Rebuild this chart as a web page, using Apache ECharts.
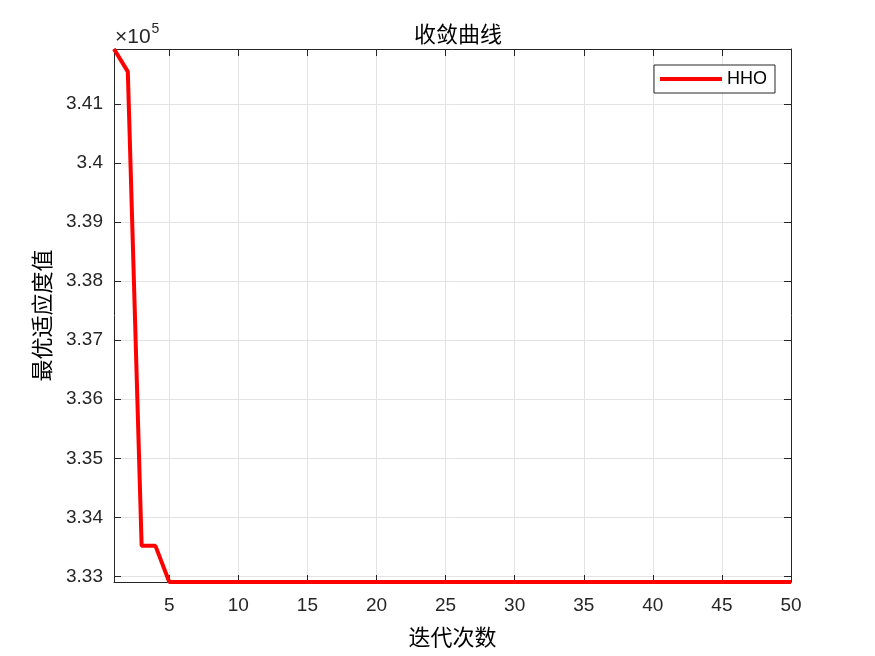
<!DOCTYPE html>
<html><head><meta charset="utf-8">
<script src="https://cdn.jsdelivr.net/npm/echarts@6/dist/echarts.min.js"></script>
<style>html,body{margin:0;padding:0;background:#fff}#c{width:875px;height:656px}</style>
</head><body><div id="c"></div>
<script>
const iterations = Array.from({length: 50}, (_, i) => i + 1);
const hhoValues = [341933, 341550, 333516, 333516,
  332904, 332904, 332904, 332904, 332904, 332904, 332904, 332904, 332904, 332904, 332904, 332904,
  332904, 332904, 332904, 332904, 332904, 332904, 332904, 332904, 332904, 332904, 332904, 332904,
  332904, 332904, 332904, 332904, 332904, 332904, 332904, 332904, 332904, 332904, 332904, 332904,
  332904, 332904, 332904, 332904, 332904, 332904, 332904, 332904, 332904, 332904];
const seriesName = 'HHO';
const titleText = '收敛曲线';
const xName = '迭代次数';
const yName = '最优适应度值';
const yMin = 332904, yMax = 341933;

const chart = echarts.init(document.getElementById('c'));
const axisCol = '#262626';
const latin = 'Liberation Sans, Arial, sans-serif';
const cjk = 'Noto Sans CJK SC';
const lab = {color: axisCol, fontSize: 19, fontFamily: latin};
const data = iterations.map((x, i) => [x, hhoValues[i]]);
const xFmt = v => (Math.abs(v % 5) < 1e-9 ? String(v) : '');
const yFmt = v => { const r = Math.round(v); return (Math.abs(v - r) < 1e-6 && r % 1000 === 0) ? (r / 1e5).toString() : ''; };
chart.setOption({
  animation: false,
  backgroundColor: '#fff',
  title: {text: titleText, left: 453, textAlign: 'center', top: 18,
    textStyle: {fontSize: 22, fontWeight: 'normal', color: '#000', fontFamily: cjk}},
  grid: {left: 114, right: 84, top: 49, bottom: 74, containLabel: false},
  legend: {data: [seriesName], left: 654, top: 65, orient: 'vertical',
    borderColor: axisCol, borderWidth: 1, backgroundColor: '#fff', borderRadius: 0,
    padding: [5, 8, 5, 6], itemWidth: 62, itemHeight: 4, itemGap: 0,
    icon: 'rect', textStyle: {fontSize: 18, color: '#000', fontFamily: latin, padding: [0, 0, 0, 0]}},
  xAxis: [{type: 'value', min: 1, max: 50, splitNumber: 10,
      name: xName, nameLocation: 'middle', nameGap: 44,
      nameTextStyle: {fontSize: 22, color: '#000', fontFamily: cjk},
      axisLine: {show: true, onZero: false, lineStyle: {color: axisCol, width: 1}},
      axisTick: {show: true, inside: true, length: 7, lineStyle: {color: axisCol}},
      axisLabel: Object.assign({formatter: xFmt, margin: 14, showMinLabel: true, showMaxLabel: true}, lab),
      splitLine: {show: true, lineStyle: {color: '#e3e3e3', width: 1}}},
    {type: 'value', position: 'top', min: 1, max: 50, splitNumber: 10,
      axisLine: {show: true, onZero: false, lineStyle: {color: axisCol, width: 1}},
      axisTick: {show: true, inside: true, length: 7, lineStyle: {color: axisCol}},
      axisLabel: {show: false}, splitLine: {show: false}}],
  yAxis: [{type: 'value', min: yMin, max: yMax, splitNumber: 9,
      name: yName, nameLocation: 'middle', nameGap: 61, nameRotate: 90,
      nameTextStyle: {fontSize: 22, color: '#000', fontFamily: cjk},
      axisLine: {show: true, onZero: false, lineStyle: {color: axisCol, width: 1}},
      axisTick: {show: true, inside: true, length: 7, lineStyle: {color: axisCol}},
      axisLabel: Object.assign({formatter: yFmt, margin: 11, showMinLabel: true, showMaxLabel: true}, lab),
      splitLine: {show: true, lineStyle: {color: '#e3e3e3', width: 1}}},
    {type: 'value', position: 'right', min: yMin, max: yMax, splitNumber: 9,
      axisLine: {show: true, onZero: false, lineStyle: {color: axisCol, width: 1}},
      axisTick: {show: true, inside: true, length: 7, lineStyle: {color: axisCol}},
      axisLabel: {show: false}, splitLine: {show: false}}],
  graphic: [{type: 'text', left: 115, top: 22,
    style: {text: '{a|×10}{b|5}', rich: {
      a: {fontSize: 21, fill: axisCol, fontFamily: latin, verticalAlign: 'bottom'},
      b: {fontSize: 14, fill: axisCol, fontFamily: latin, verticalAlign: 'top', padding: [0, 0, 12, 1]}}}}],
  series: [{name: seriesName, type: 'line', data: data, showSymbol: false, symbol: 'none',
    lineStyle: {color: '#ff0000', width: 4}, itemStyle: {color: '#ff0000'}, clip: true, z: 5}]
});
</script></body></html>
